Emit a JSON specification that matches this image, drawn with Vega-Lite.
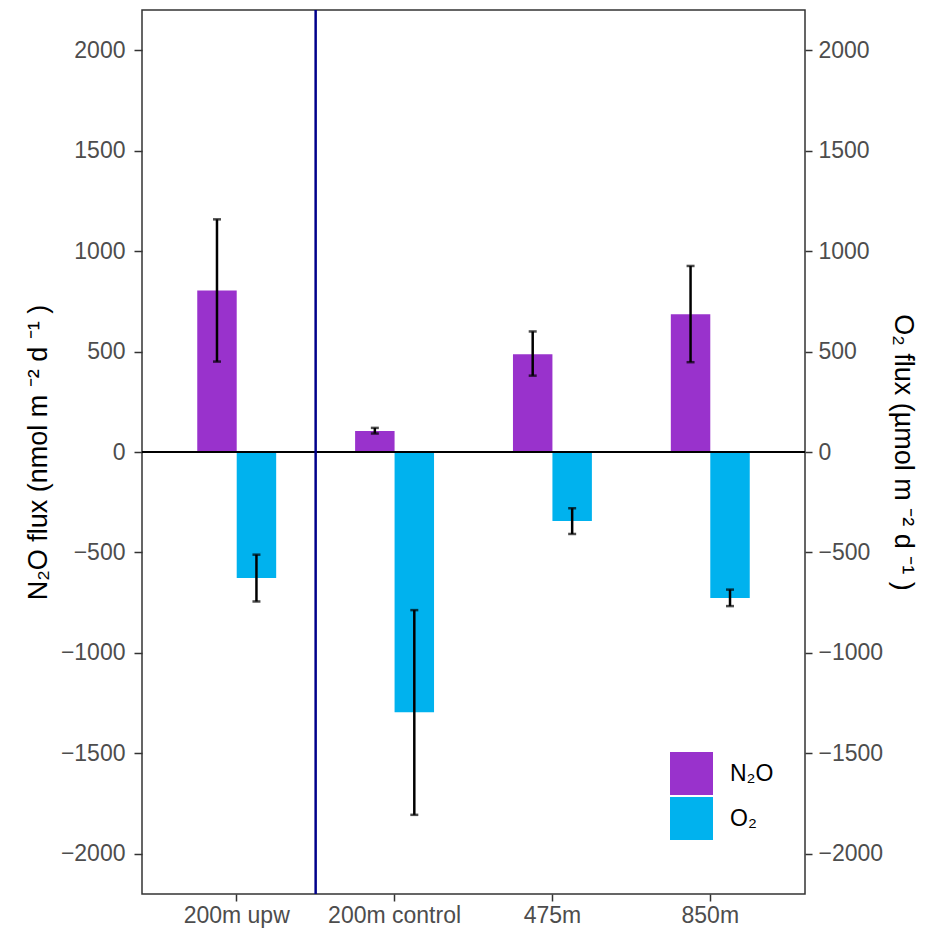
{
  "$schema": "https://vega.github.io/schema/vega-lite/v6.json",
  "width": 663,
  "height": 884,
  "autosize": "none",
  "padding": {"left": 142, "top": 10, "right": 124, "bottom": 37},
  "background": "white",
  "config": {
    "font": "Liberation Sans",
    "view": {"stroke": "#333333", "strokeWidth": 1.5},
    "axis": {"grid": false, "domain": false, "tickColor": "#333333", "tickWidth": 1.5, "tickSize": 8, "labelColor": "#4D4D4D", "labelFontSize": 23, "titleFontSize": 27, "titleColor": "black", "titleFontWeight": "normal"}
  },
  "data": {
    "values": [
      {"site": "200m upw", "gas": "N₂O", "value": 804, "lo": 450, "hi": 1158},
      {"site": "200m upw", "gas": "O₂", "value": -627, "lo": -744, "hi": -511},
      {"site": "200m control", "gas": "N₂O", "value": 104, "lo": 92, "hi": 120},
      {"site": "200m control", "gas": "O₂", "value": -1295, "lo": -1806, "hi": -787},
      {"site": "475m", "gas": "N₂O", "value": 487, "lo": 380, "hi": 600},
      {"site": "475m", "gas": "O₂", "value": -343, "lo": -408, "hi": -280},
      {"site": "850m", "gas": "N₂O", "value": 686, "lo": 447, "hi": 926},
      {"site": "850m", "gas": "O₂", "value": -727, "lo": -767, "hi": -685}
    ]
  },
  "encoding": {
    "x": {"field": "site", "type": "nominal", "sort": ["200m upw", "200m control", "475m", "850m"],
      "scale": {"paddingInner": 0, "paddingOuter": 0.1},
      "axis": {"title": null, "labelAngle": 0, "labelPadding": 3, "tickSize": 7, "orient": "bottom"}},
    "xOffset": {"field": "gas", "type": "nominal", "scale": {"domain": ["N₂O", "O₂"], "paddingInner": 0, "paddingOuter": 1}}
  },
  "layer": [
    {
      "mark": {"type": "bar", "stroke": null},
      "encoding": {
        "y": {"field": "value", "type": "quantitative",
          "scale": {"domain": [-2200, 2200], "nice": false, "zero": false},
          "axis": {"orient": "left", "format": "d", "values": [-2000, -1500, -1000, -500, 0, 500, 1000, 1500, 2000], "title": "N₂O flux (nmol m ⁻²  d ⁻¹ )", "titlePadding": 8, "labelPadding": 9}},
        "color": {"field": "gas", "type": "nominal",
          "scale": {"domain": ["N₂O", "O₂"], "range": ["#9932CC", "#00B2EE"]},
          "legend": {"orient": "none", "legendX": 528, "legendY": 742, "title": null, "padding": 0, "symbolType": "square", "symbolSize": 1849, "symbolStrokeWidth": 0, "symbolOpacity": 1, "labelFontSize": 23, "labelColor": "black", "labelOffset": 17, "rowPadding": 2}}
      }
    },
    {
      "mark": {"type": "rule", "color": "black", "strokeWidth": 1.2},
      "encoding": {"y": {"datum": 0, "type": "quantitative", "axis": null}, "x": null, "xOffset": null}
    },
    {
      "data": {"values": [{"site": "200m control"}]},
      "mark": {"type": "rule", "color": "#00008B", "strokeWidth": 2.5},
      "encoding": {"x": {"field": "site", "type": "nominal", "bandPosition": 0}, "xOffset": null}
    },
    {
      "mark": {"type": "rule", "color": "black", "strokeWidth": 2.5},
      "encoding": {
        "y": {"field": "lo", "type": "quantitative",
          "axis": {"orient": "right", "format": "d", "values": [-2000, -1500, -1000, -500, 0, 500, 1000, 1500, 2000], "title": "O₂ flux (µmol m ⁻²  d ⁻¹ )", "titlePadding": 6, "labelPadding": 6, "tickSize": 7}},
        "y2": {"field": "hi"}
      }
    },
    {
      "mark": {"type": "tick", "color": "black", "size": 8, "thickness": 2.5},
      "encoding": {"y": {"field": "lo", "type": "quantitative", "axis": null}}
    },
    {
      "mark": {"type": "tick", "color": "black", "size": 8, "thickness": 2.5},
      "encoding": {"y": {"field": "hi", "type": "quantitative", "axis": null}}
    }
  ],
  "resolve": {"axis": {"y": "independent"}}
}
